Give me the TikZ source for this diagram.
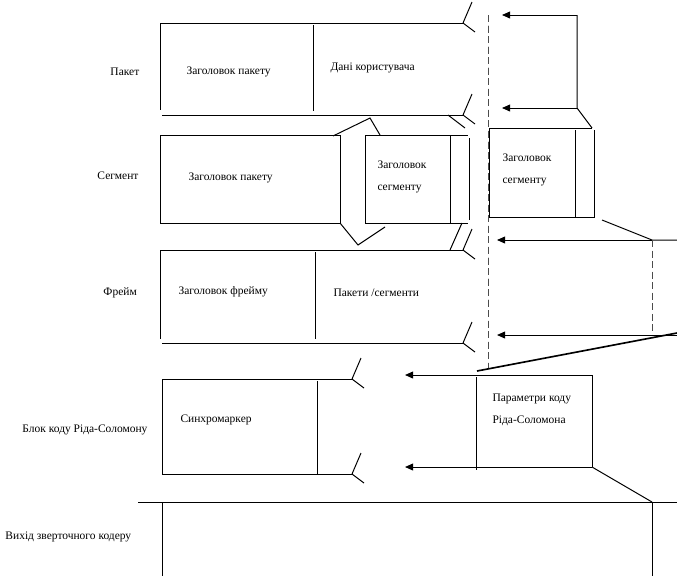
\documentclass[tikz,border=0pt]{standalone}
\usepackage{fontspec}
\setmainfont{Liberation Serif}
\usetikzlibrary{arrows.meta}
\tikzset{lbl/.style={anchor=west,inner sep=0pt,align=left,font=\fontsize{9.8}{19}\selectfont},
  arr/.style={-{Triangle[length=7pt,width=6pt]}},
  cutline/.style={dash pattern=on 6pt off 3pt,gray!60!black}}
\newcommand{\brk}[2]{\draw (#1,#2) -- ++(9,-21) (#1,#2) -- ++(12,9);}

\begin{document}
\begin{tikzpicture}[x=0.03cm,y=-0.03cm,line width=0.85pt]
  \useasboundingbox (0,0) rectangle (677,576);
  % rows
  \draw (463,23) -- (160,23) -- (160,110) (162,115) -- (463,115) (313,25) -- (313,111);
  \draw (160,135) rectangle (340,223);
  \draw (333,136) -- (370,118) -- (380,135) (340,223) -- (358,245) -- (385,227);
  \draw (365,223) -- (365,135) -- (468,135) (365,223) -- (468,223) (450,135) -- (450,223) (469,138) -- (469,220);
  \draw (448,115) -- (465,128) (450,250) -- (462,223);
  \draw (463,250) -- (160,250) -- (160,339) (162,343) -- (463,343) (315,252) -- (315,339);
  \draw (352,379) -- (162,379) -- (162,474) -- (352,474) (317,381) -- (317,474);
  \foreach \x/\y in {463/23,463/115,463/250,463/343,352/379,352/474}
    \brk{\x}{\y}
  % right part
  \draw[cutline] (488,15) -- (488,368);
  \draw (489,217) -- (489,128) -- (592,128) (489,217) -- (594,217) -- (594,130) (575,130) -- (575,217);
  \coordinate (t1) at (577,15);
  \coordinate (t2) at (577,108);
  \draw[arr] (t1) -- (502,15);
  \draw (t1) -- (t2) -- (592,128);
  \draw[arr] (t2) -- (502,108);
  \coordinate (m1) at (652,240);
  \coordinate (m2) at (652,335);
  \draw (602,220) -- (m1) -- (677,240);
  \draw[arr] (m1) -- (497,240);
  \draw[cutline] (m1) -- (m2);
  \draw[arr] (677,335) -- (497,335);
  \draw[line width=1.4pt] (677,333) -- (477,371);
  \coordinate (r1) at (592,375);
  \coordinate (r2) at (592,467);
  \draw[arr] (r1) -- (405,375);
  \draw (r1) -- (r2) (476,377) -- (476,470);
  \draw[arr] (r2) -- (405,467);
  \draw (r2) -- (652,502);
  \draw (138,502) -- (677,502) (162,502) -- (162,576) (652,502) -- (652,576);
  % labels
  \node[lbl] (paket) at (110,72) {Пакет};
  \node[lbl] (paket hdr) at (186,72) {Заголовок пакету};
  \node[lbl] (paket data) at (330,68) {Дані користувача};
  \node[lbl] (segm) at (97,176) {Сегмент};
  \node[lbl] (segm pkt) at (188,178) {Заголовок пакету};
  \node[lbl] (segm hdr) at (377,177) {Заголовок\\сегменту};
  \node[lbl] (segm hdr2) at (502,170) {Заголовок\\сегменту};
  \node[lbl] (frame) at (103,293) {Фрейм};
  \node[lbl] (frame hdr) at (178,292) {Заголовок фрейму};
  \node[lbl] (frame data) at (333,293) {Пакети /сегменти};
  \node[lbl] (rs) at (22,430) {Блок коду Ріда-Соломону};
  \node[lbl] (sync) at (180,420) {Синхромаркер};
  \node[lbl] (rs par) at (492,410) {Параметри коду\\Ріда-Соломона};
  \node[lbl] (conv) at (5,537) {Вихід зверточного кодеру};
\end{tikzpicture}
\end{document}
